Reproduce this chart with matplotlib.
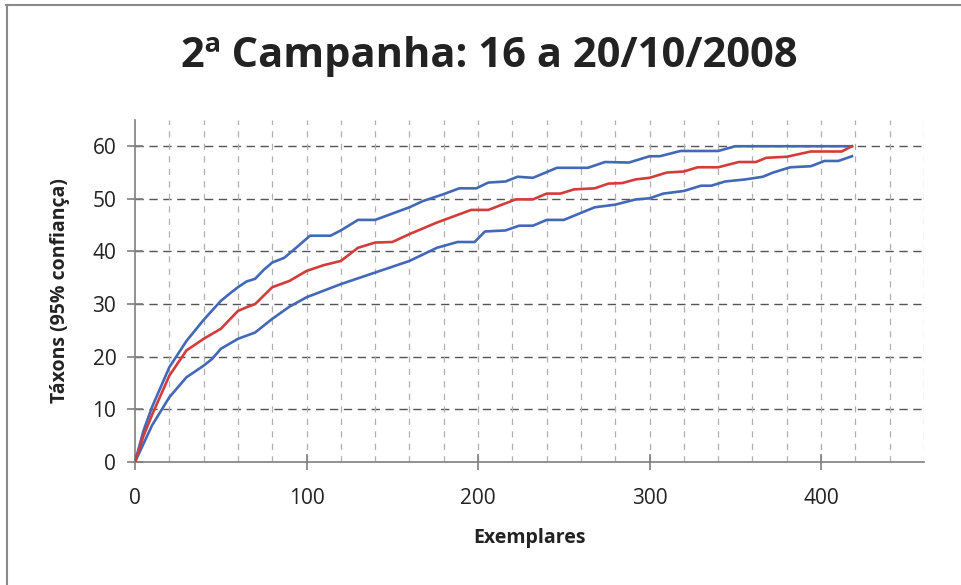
import matplotlib.pyplot as plt
from matplotlib.lines import Line2D
from matplotlib.ticker import MultipleLocator

plt.rcParams["font.family"] = ["Open Sans", "DejaVu Sans"]

# ── data (Exemplares vs Táxons) ──────────────────────────────────────────────
upper_x = [0, 5, 10, 20, 30, 40, 50, 56, 60, 65, 70, 75, 80, 87, 95, 102, 114,
           120, 130, 140, 150, 160, 168, 180, 189, 199, 206, 216, 223, 232,
           246, 264, 274, 288, 300, 306, 318, 340, 350, 418]
upper_y = [0, 6, 10.5, 18, 23, 27, 30.6, 32.2, 33.2, 34.3, 34.8, 36.5, 37.9,
           38.8, 41, 43, 43, 44, 46, 46, 47.2, 48.4, 49.6, 50.9, 52, 52, 53.1,
           53.3, 54.2, 54, 55.9, 55.9, 57, 56.9, 58.1, 58.1, 59.1, 59.1, 60, 60]

mean_x = [0, 5, 10, 20, 30, 40, 50, 60, 65, 70, 80, 90, 100, 110, 120, 130,
          140, 150, 160, 176, 196, 206, 222, 232, 240, 248, 256, 268, 276, 284,
          292, 300, 310, 320, 328, 340, 352, 362, 368, 380, 394, 412, 418]
mean_y = [0, 5, 9, 16.4, 21.2, 23.4, 25.3, 28.7, 29.4, 30, 33.2, 34.4, 36.3,
          37.4, 38.2, 40.7, 41.7, 41.8, 43.3, 45.5, 47.9, 47.9, 49.9, 49.9, 51,
          51, 51.8, 52, 52.9, 53, 53.7, 54, 55, 55.2, 56, 56, 57, 57, 57.8, 58,
          59, 59, 60]

lower_x = [0, 5, 10, 20, 30, 40, 45, 50, 60, 70, 80, 90, 100, 120, 140, 160,
           176, 188, 198, 204, 216, 224, 232, 240, 250, 268, 280, 292, 300, 308,
           320, 330, 336, 344, 356, 366, 372, 382, 394, 402, 410, 418]
lower_y = [0, 3.5, 7, 12.3, 16.1, 18.3, 19.6, 21.5, 23.4, 24.6, 27.2, 29.5,
           31.3, 33.8, 36, 38.2, 40.7, 41.8, 41.8, 43.8, 44, 44.9, 44.9, 46, 46,
           48.4, 48.9, 49.9, 50.1, 51, 51.5, 52.5, 52.5, 53.3, 53.7, 54.2, 55,
           56, 56.2, 57.2, 57.2, 58.1]

BLUE = "#4268b8"
RED = "#d23c3a"

fig = plt.figure(figsize=(9.61, 5.85), dpi=100)
ax = fig.add_axes([0.1405, 0.2103, 0.821, 0.5847])

ax.plot(upper_x, upper_y, color=BLUE, lw=1.9, zorder=3, solid_joinstyle="round")
ax.plot(lower_x, lower_y, color=BLUE, lw=1.9, zorder=3, solid_joinstyle="round")
ax.plot(mean_x, mean_y, color=RED, lw=1.9, zorder=4, solid_joinstyle="round")

ax.set_xlim(0, 460)
ax.set_ylim(0, 65)
ax.xaxis.set_major_locator(MultipleLocator(100))
ax.xaxis.set_minor_locator(MultipleLocator(20))
ax.yaxis.set_major_locator(MultipleLocator(10))

# grid: dark dashed horizontals, light dashed verticals every 20
for yv in range(10, 61, 10):
    ax.axhline(yv, color="#555555", lw=1.0, ls=(0, (6, 4)), zorder=1)
for xv in range(20, 461, 20):
    ax.axvline(xv, color="#b0b0b0", lw=0.9, ls=(0, (5, 5)), zorder=1)

for side in ("top", "right"):
    ax.spines[side].set_visible(False)
for side in ("left", "bottom"):
    ax.spines[side].set_color("#7f7f7f")
    ax.spines[side].set_linewidth(1.2)

ax.tick_params(which="major", direction="inout", length=11, width=1.2,
               color="#7f7f7f", labelsize=15, labelcolor="#222222", pad=8)
ax.tick_params(axis="x", which="major", pad=13)
ax.tick_params(which="minor", length=0)

ax.set_xlabel("Exemplares", fontsize=14, fontweight="bold", labelpad=14,
              color="#222222")
ax.set_ylabel("Táxons (95% confiança)", fontsize=14, fontweight="bold",
              labelpad=16, color="#222222")

fig.text(0.509, 0.903, "2ª Campanha: 16 a 20/10/2008", fontsize=30,
         fontweight="bold", ha="center", va="center", color="#222222")

# outer chart frame (top and left edges visible in the scan)
fig.add_artist(Line2D([0.006, 1.0], [0.991, 0.991], color="#8a8a8a", lw=1.5))
fig.add_artist(Line2D([0.007, 0.007], [0.0, 0.991], color="#8a8a8a", lw=1.5))

fig.savefig("out.png", dpi=100)
